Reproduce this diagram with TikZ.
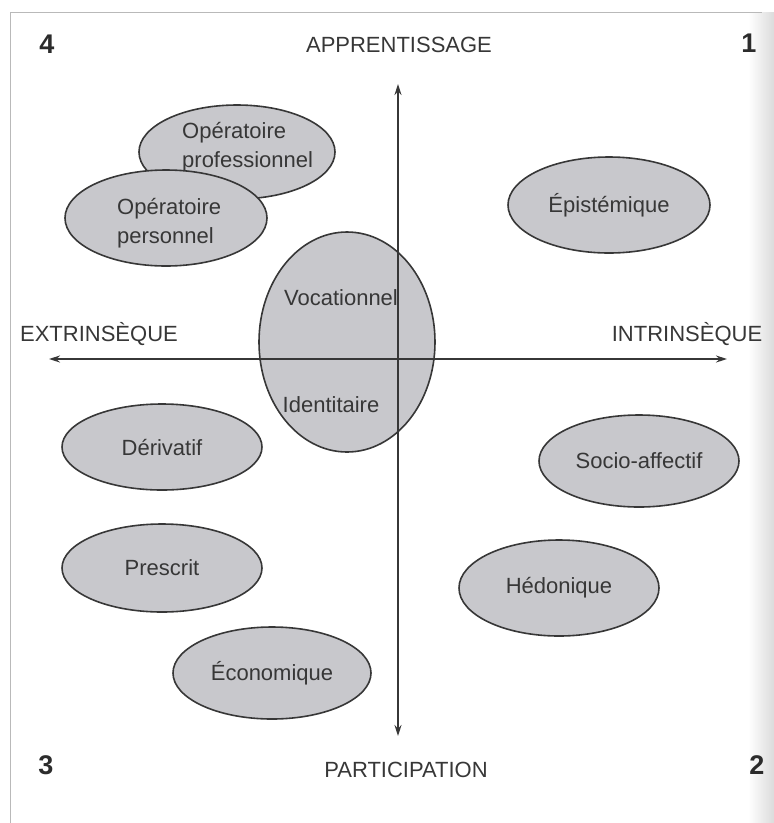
\documentclass[tikz,border=0pt]{standalone}
\usepackage{fontspec}
\setmainfont{Liberation Sans}
\usetikzlibrary{shapes.geometric, arrows.meta, positioning}
\definecolor{ovalgray}{RGB}{200, 200, 204}
\definecolor{inkgray}{RGB}{55, 55, 55}
\definecolor{framegray}{RGB}{185, 185, 185}

\begin{document}
\begin{tikzpicture}[x=1pt, y=-1pt,
  oval/.style={ellipse, draw=inkgray, line width=1.6pt, fill=ovalgray, text=inkgray, font=\fontsize{22}{29}\selectfont, align=center, inner sep=0pt},
  axis/.style={{Stealth[length=11pt, width=7pt]}-{Stealth[length=11pt, width=7pt]}, draw=inkgray, line width=1.6pt},
  axlabel/.style={text=inkgray, font=\fontsize{22}{29}\selectfont, inner sep=0pt},
  corner/.style={text=inkgray!80!black, font=\fontsize{27}{30}\selectfont\bfseries, inner sep=0pt}]
\useasboundingbox (0,0) rectangle (774,823);
% Page frame and scan edge
\shade[left color=white, right color=black!14] (748,12) rectangle (774,823);
\draw[framegray, line width=1pt] (10,823) -- (10,12) -- (762,12);
% Quadrant 4
\node[oval, minimum width=196pt, minimum height=94pt] (prof) at (237,152) {};
\node[axlabel, align=left, anchor=west] (proft) at (182,147) {Opératoire\\professionnel};
\node[oval, minimum width=202pt, minimum height=96pt] (pers) at (166,218) {};
\node[axlabel, align=left, anchor=west] (perst) at (117,223) {Opératoire\\personnel};
% Quadrant 1
\node[oval, minimum width=202pt, minimum height=96pt] (epis) at (609,205) {Épistémique};
% Centre
\node[oval, minimum width=176pt, minimum height=220pt] (voc) at (347,342) {};
\node[axlabel] (vocl) at (341,298) {Vocationnel};
\node[axlabel] (iden) at (331,405) {Identitaire};
% Quadrant 2
\node[oval, minimum width=200pt, minimum height=92pt] (socio) at (639,461) {Socio-affectif};
\node[oval, minimum width=200pt, minimum height=96pt] (hedo) at (559,588) {Hédonique};
% Quadrant 3
\node[oval, minimum width=200pt, minimum height=86pt] (deri) at (162,447) {Dérivatif};
\node[oval, minimum width=200pt, minimum height=88pt] (pres) at (162,568) {Prescrit};
\node[oval, minimum width=198pt, minimum height=92pt] (econ) at (272,673) {Économique};
% Axes
\coordinate (west) at (49,359);
\coordinate (east) at (727,359);
\coordinate (north) at (398,84);
\coordinate (south) at (398,736);
\draw[axis] (west) -- (east);
\draw[axis] (south) -- (north);
% Axis labels
\node[axlabel] (appr) at (399,45) {APPRENTISSAGE};
\node[axlabel] (part) at (406,770) {PARTICIPATION};
\node[axlabel] (extr) at (99,334) {EXTRINSÈQUE};
\node[axlabel] (intr) at (687,334) {INTRINSÈQUE};
% Quadrant numbers
\node[corner] (q4) at (47,44) {4};
\node[corner] (q1) at (749,43) {1};
\node[corner] (q3) at (46,765) {3};
\node[corner] (q2) at (757,765) {2};
\end{tikzpicture}
\end{document}
